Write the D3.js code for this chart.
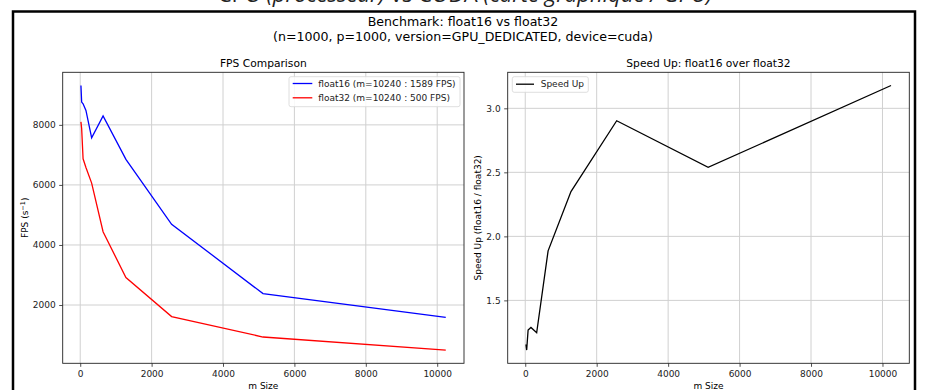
<!DOCTYPE html>
<html>
<head>
<meta charset="utf-8">
<script src="https://cdn.jsdelivr.net/npm/d3@7"></script>
<style>
  body { margin: 0; background: #fff; }
  svg { display: block; font-family: "DejaVu Sans", sans-serif; }
</style>
</head>
<body>
<div id="chart"></div>
<script>
// matrix sizes (m) and measured values
var mSizes = [20, 40, 80, 160, 320, 640, 1280, 2560, 5120, 10240];
var fps16 = [9310, 8760, 8700, 8480, 7570, 8300, 6850, 4690, 2380, 1589];
var fps32 = [8100, 7880, 6870, 6580, 6060, 4440, 2915, 1615, 935, 500];
var speedUp = [1.156, 1.112, 1.268, 1.289, 1.247, 1.887, 2.35, 2.903, 2.539, 3.178];

var xTicks = [0, 2000, 4000, 6000, 8000, 10000];
var fpsTicks = [2000, 4000, 6000, 8000];
var speedTicks = [1.5, 2.0, 2.5, 3.0];

var W = 925, H = 390;
var svg = d3.select("#chart").append("svg")
  .attr("width", W).attr("height", H);

// cropped heading from the page above the figure
var head = svg.append("text")
  .attr("x", 465).attr("y", 2)
  .attr("text-anchor", "middle")
  .style("font-family", "'Open Sans', sans-serif")
  .style("font-size", "22px")
  .attr("fill", "#222");
head.append("tspan").text("CPU ");
head.append("tspan").style("font-style", "italic").text("(processeur)");
head.append("tspan").text(" vs CUDA ");
head.append("tspan").style("font-style", "italic").text("(carte graphique / GPU)");

// figure frame
svg.append("rect")
  .attr("x", 13).attr("y", 11.5)
  .attr("width", 902).attr("height", 400)
  .attr("fill", "#fff")
  .attr("stroke", "#000")
  .attr("stroke-width", 2.5);

svg.append("text")
  .attr("x", 463).attr("y", 26)
  .attr("text-anchor", "middle")
  .style("font-size", "12.6px")
  .text("Benchmark: float16 vs float32");
svg.append("text")
  .attr("x", 463).attr("y", 41)
  .attr("text-anchor", "middle")
  .style("font-size", "12.6px")
  .text("(n=1000, p=1000, version=GPU_DEDICATED, device=cuda)");

var plotTop = 72.3, plotBottom = 363.3;

function padded(vals) {
  var lo = d3.min(vals), hi = d3.max(vals), r = hi - lo;
  return [lo - 0.05 * r, hi + 0.05 * r];
}

function drawAxes(left, right, xScale, yScale, yTickVals, yFmt, title) {
  var g = svg.append("g");

  // grid
  g.selectAll(".gx").data(xTicks).join("line")
    .attr("x1", d => xScale(d)).attr("x2", d => xScale(d))
    .attr("y1", plotTop).attr("y2", plotBottom)
    .attr("stroke", "#d0d0d0").attr("stroke-width", 1);
  g.selectAll(".gy").data(yTickVals).join("line")
    .attr("x1", left).attr("x2", right)
    .attr("y1", d => yScale(d)).attr("y2", d => yScale(d))
    .attr("stroke", "#d0d0d0").attr("stroke-width", 1);

  var xa = g.append("g")
    .attr("transform", `translate(0,${plotBottom})`)
    .call(d3.axisBottom(xScale).tickValues(xTicks).tickFormat(d3.format("d"))
      .tickSize(3.5).tickPadding(3.5).tickSizeOuter(0));
  var ya = g.append("g")
    .attr("transform", `translate(${left},0)`)
    .call(d3.axisLeft(yScale).tickValues(yTickVals).tickFormat(yFmt)
      .tickSize(3.5).tickPadding(3.5).tickSizeOuter(0));
  [xa, ya].forEach(function(a) {
    a.select(".domain").remove();
    a.selectAll("text").style("font-size", "9px").style("font-family", "'DejaVu Sans', sans-serif").attr("fill", "#222");
    a.selectAll("line").attr("stroke", "#222").attr("stroke-width", 0.8);
  });

  // frame
  g.append("rect")
    .attr("x", left).attr("y", plotTop)
    .attr("width", right - left).attr("height", plotBottom - plotTop)
    .attr("fill", "none").attr("stroke", "#222").attr("stroke-width", 0.9);

  g.append("text")
    .attr("x", (left + right) / 2).attr("y", 67)
    .attr("text-anchor", "middle")
    .style("font-size", "10.7px")
    .text(title);
  g.append("text")
    .attr("x", (left + right) / 2).attr("y", 389)
    .attr("text-anchor", "middle")
    .style("font-size", "9px")
    .text("m Size");
  return g;
}

// ---------- left: FPS comparison
var L1 = 62.7, R1 = 464;
var x1 = d3.scaleLinear().domain(padded(mSizes)).range([L1, R1]);
var y1 = d3.scaleLinear().domain(padded(fps16.concat(fps32))).range([plotBottom, plotTop]);
var g1 = drawAxes(L1, R1, x1, y1, fpsTicks, d3.format("d"), "FPS Comparison");

var yl1 = g1.append("text")
  .attr("transform", `translate(28,${(plotTop + plotBottom) / 2}) rotate(-90)`)
  .attr("text-anchor", "middle")
  .style("font-size", "9px");
yl1.append("tspan").text("FPS (s");
yl1.append("tspan").attr("dy", -3).style("font-size", "6.5px").text("\u22121");
yl1.append("tspan").attr("dy", 3).text(")");

var line1 = d3.line().x((d, i) => x1(mSizes[i])).y(d => y1(d));
g1.append("path").datum(fps16).attr("d", line1)
  .attr("fill", "none").attr("stroke", "#0000ff").attr("stroke-width", 1.3);
g1.append("path").datum(fps32).attr("d", line1)
  .attr("fill", "none").attr("stroke", "#ff0000").attr("stroke-width", 1.3);

// legend
var lg1 = g1.append("g");
lg1.append("rect").attr("x", 289).attr("y", 76.7).attr("width", 171).attr("height", 30)
  .attr("rx", 2).attr("fill", "#fff").attr("fill-opacity", 0.85)
  .attr("stroke", "#d5d5d5").attr("stroke-width", 0.8);
var legItems = [
  {label: "float16 (m=" + mSizes[mSizes.length - 1] + " : " + fps16[fps16.length - 1] + " FPS)", color: "#0000ff"},
  {label: "float32 (m=" + mSizes[mSizes.length - 1] + " : " + fps32[fps32.length - 1] + " FPS)", color: "#ff0000"}
];
legItems.forEach(function(it, i) {
  var yy = 83.5 + i * 14.3;
  lg1.append("line").attr("x1", 292.7).attr("x2", 312.3).attr("y1", yy).attr("y2", yy)
    .attr("stroke", it.color).attr("stroke-width", 1.3);
  lg1.append("text").attr("x", 318.3).attr("y", yy + 3.2)
    .style("font-size", "9px").attr("fill", "#222").text(it.label);
});

// ---------- right: speed up
var L2 = 507.7, R2 = 909.3;
var x2 = d3.scaleLinear().domain(padded(mSizes)).range([L2, R2]);
var y2 = d3.scaleLinear().domain(padded(speedUp)).range([plotBottom, plotTop]);
var g2 = drawAxes(L2, R2, x2, y2, speedTicks, d3.format(".1f"), "Speed Up: float16 over float32");

g2.append("text")
  .attr("transform", `translate(481,${(plotTop + plotBottom) / 2}) rotate(-90)`)
  .attr("text-anchor", "middle")
  .style("font-size", "9px")
  .text("Speed Up (float16 / float32)");

var line2 = d3.line().x((d, i) => x2(mSizes[i])).y(d => y2(d));
g2.append("path").datum(speedUp).attr("d", line2)
  .attr("fill", "none").attr("stroke", "#000").attr("stroke-width", 1.3);

var lg2 = g2.append("g");
lg2.append("rect").attr("x", 512.3).attr("y", 76.7).attr("width", 76).attr("height", 15.6)
  .attr("rx", 2).attr("fill", "#fff").attr("fill-opacity", 0.85)
  .attr("stroke", "#d5d5d5").attr("stroke-width", 0.8);
lg2.append("line").attr("x1", 516).attr("x2", 534).attr("y1", 84.2).attr("y2", 84.2)
  .attr("stroke", "#000").attr("stroke-width", 1.3);
lg2.append("text").attr("x", 540.7).attr("y", 87.4)
  .style("font-size", "9px").attr("fill", "#222").text("Speed Up");
</script>
</body>
</html>
